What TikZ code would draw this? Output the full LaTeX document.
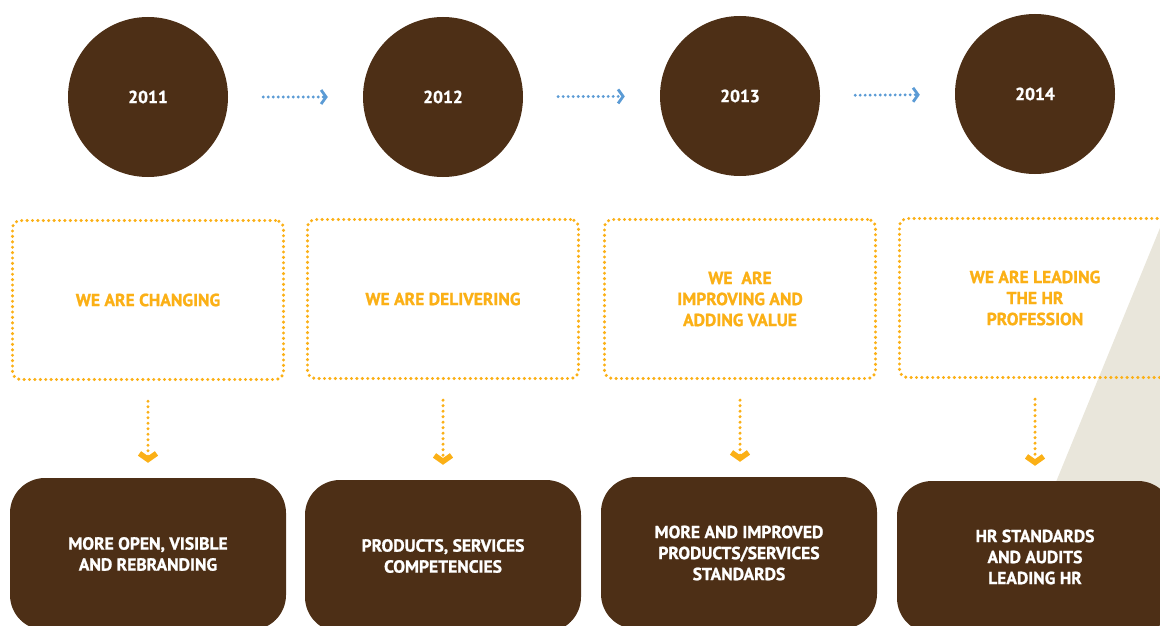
\documentclass[tikz,border=0pt]{standalone}
\usepackage{fontspec}
\setmainfont{PT Sans}[BoldFeatures={FakeBold=1.2}]
\usetikzlibrary{arrows.meta,positioning}
\definecolor{hrbrown}{HTML}{4D2F16}
\definecolor{hrorange}{HTML}{FBB016}
\definecolor{hrblue}{HTML}{5B9BD5}
\definecolor{hrbeige}{HTML}{E9E6DB}

\begin{document}
\begin{tikzpicture}[x=1pt, y=-1pt]
  \tikzstyle{every node} = [font = \bfseries\fontsize{17.5}{21}\selectfont,
                            align = center,
                            inner sep = 0]
  \tikzstyle{year}   = [circle, fill = hrbrown, text = white,
                        minimum size = 160pt]
  \tikzstyle{motto}  = [draw = hrorange, text = hrorange,
                        rounded corners = 8pt,
                        line width = 3.4pt, line cap = round,
                        dash pattern = on 0pt off 5.4pt,
                        minimum width = 271pt, minimum height = 159pt]
  \tikzstyle{result} = [fill = hrbrown, text = white,
                        rounded corners = 35pt,
                        minimum width = 276pt, minimum height = 152pt]
  \tikzstyle{nextyear} = [draw = hrblue, line width = 3.2pt, line cap = round,
                          dash pattern = on 0pt off 5pt,
                          shorten < = 35pt, shorten > = 35pt,
                          -{Straight Barb[length=5pt, width=14pt, line width=2.8pt]}]
  \tikzstyle{leadsto} = [draw = hrorange, line width = 3.4pt, line cap = round,
                         dash pattern = on 0pt off 5.5pt,
                         shorten < = 20pt, shorten > = 15pt,
                         -{Straight Barb[length=6pt, width=17pt, line width=5.5pt]}]

  \useasboundingbox (0,0) rectangle (1160,626);
  \clip (0,0) rectangle (1160,626);

  % background wedge
  \fill[hrbeige] (1160,228) -- (1160,626) -- (997,626) -- cycle;

  % years
  \node[year] (y2011) at (148,97) {2011};
  \node[year] (y2012) at (443,97) {2012};
  \node[year] (y2013) at (740,96) {2013};
  \node[year] (y2014) at (1035,94) {2014};

  % what we are doing
  \node[motto] (m2011) at (148,300) {WE ARE CHANGING};
  \node[motto] (m2012) at (443,299) {WE ARE DELIVERING};
  \node[motto] (m2013) at (740,299) {WE\ \ ARE\\IMPROVING AND\\ADDING VALUE};
  \node[motto] (m2014) at (1035,298) {WE ARE LEADING\\THE HR\\PROFESSION};

  % outcomes
  \node[result] (r2011) at (148,554) {MORE OPEN, VISIBLE\\AND REBRANDING};
  \node[result] (r2012) at (443,556) {PRODUCTS, SERVICES\\COMPETENCIES};
  \node[result] (r2013) at (739,553) {MORE AND IMPROVED\\PRODUCTS/SERVICES\\STANDARDS};
  \node[result] (r2014) at (1035,557) {HR STANDARDS\\AND AUDITS\\LEADING HR};

  \draw[nextyear] (y2011) -- (y2012);
  \draw[nextyear] (y2012) -- (y2013);
  \draw[nextyear] (y2013) -- (y2014);

  \draw[leadsto] (m2011) -- (m2011 |- r2011.north);
  \draw[leadsto] (m2012) -- (m2012 |- r2012.north);
  \draw[leadsto] (m2013) -- (m2013 |- r2013.north);
  \draw[leadsto] (m2014) -- (m2014 |- r2014.north);

\end{tikzpicture}
\end{document}
